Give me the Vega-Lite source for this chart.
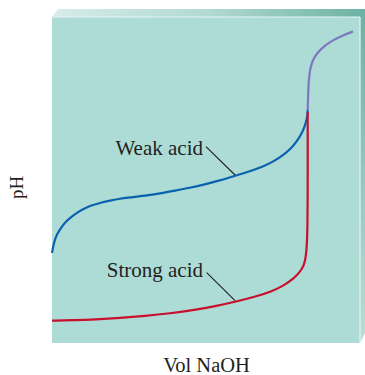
{
  "$schema": "https://vega.github.io/schema/vega-lite/v6.json",
  "width": 308,
  "height": 326,
  "autosize": {"type": "none"},
  "padding": {"left": 52, "top": 17, "right": 5, "bottom": 32},
  "background": "white",
  "config": {"view": {"fill": "#acdcd5", "stroke": null}},
  "datasets": {
    "curves": [
      {"s": "weak", "i": 1, "x": 0, "y": 90},
      {"s": "weak", "i": 2, "x": 2, "y": 101},
      {"s": "weak", "i": 3, "x": 5, "y": 109},
      {"s": "weak", "i": 4, "x": 9.7, "y": 116.3},
      {"s": "weak", "i": 5, "x": 14, "y": 121.5},
      {"s": "weak", "i": 6, "x": 19.7, "y": 126.3},
      {"s": "weak", "i": 7, "x": 26, "y": 131},
      {"s": "weak", "i": 8, "x": 33, "y": 135},
      {"s": "weak", "i": 9, "x": 41, "y": 138},
      {"s": "weak", "i": 10, "x": 49.7, "y": 140.7},
      {"s": "weak", "i": 11, "x": 58, "y": 142.5},
      {"s": "weak", "i": 12, "x": 66, "y": 144},
      {"s": "weak", "i": 13, "x": 78, "y": 145.5},
      {"s": "weak", "i": 14, "x": 93, "y": 147.2},
      {"s": "weak", "i": 15, "x": 108, "y": 149.5},
      {"s": "weak", "i": 16, "x": 123, "y": 152.3},
      {"s": "weak", "i": 17, "x": 138, "y": 155.2},
      {"s": "weak", "i": 18, "x": 151, "y": 158.2},
      {"s": "weak", "i": 19, "x": 168, "y": 162.5},
      {"s": "weak", "i": 20, "x": 183, "y": 167.2},
      {"s": "weak", "i": 21, "x": 198, "y": 171.8},
      {"s": "weak", "i": 22, "x": 211, "y": 176.5},
      {"s": "weak", "i": 23, "x": 222, "y": 181.8},
      {"s": "weak", "i": 24, "x": 231, "y": 187.8},
      {"s": "weak", "i": 25, "x": 239, "y": 194.5},
      {"s": "weak", "i": 26, "x": 244.7, "y": 201.3},
      {"s": "weak", "i": 27, "x": 249.7, "y": 209.7},
      {"s": "weak", "i": 28, "x": 252.5, "y": 216},
      {"s": "weak", "i": 29, "x": 254.7, "y": 223.5},
      {"s": "weak", "i": 30, "x": 255.6, "y": 230},
      {"s": "weak", "i": 31, "x": 255.7, "y": 233},
      {"s": "excess", "i": 1, "x": 255.7, "y": 233},
      {"s": "excess", "i": 2, "x": 255.8, "y": 238},
      {"s": "excess", "i": 3, "x": 256.2, "y": 250},
      {"s": "excess", "i": 4, "x": 256.7, "y": 262},
      {"s": "excess", "i": 5, "x": 257.8, "y": 272},
      {"s": "excess", "i": 6, "x": 259.7, "y": 280},
      {"s": "excess", "i": 7, "x": 263, "y": 287},
      {"s": "excess", "i": 8, "x": 268, "y": 293},
      {"s": "excess", "i": 9, "x": 274, "y": 298.3},
      {"s": "excess", "i": 10, "x": 281, "y": 302.8},
      {"s": "excess", "i": 11, "x": 291, "y": 307.8},
      {"s": "excess", "i": 12, "x": 301, "y": 311.5},
      {"s": "strong", "i": 1, "x": 0, "y": 22.3},
      {"s": "strong", "i": 2, "x": 23, "y": 22.8},
      {"s": "strong", "i": 3, "x": 43, "y": 23.6},
      {"s": "strong", "i": 4, "x": 68, "y": 25},
      {"s": "strong", "i": 5, "x": 93, "y": 27},
      {"s": "strong", "i": 6, "x": 118, "y": 29.6},
      {"s": "strong", "i": 7, "x": 143, "y": 33},
      {"s": "strong", "i": 8, "x": 163, "y": 36.8},
      {"s": "strong", "i": 9, "x": 183, "y": 41.2},
      {"s": "strong", "i": 10, "x": 203, "y": 46.2},
      {"s": "strong", "i": 11, "x": 219.7, "y": 51.5},
      {"s": "strong", "i": 12, "x": 231, "y": 57},
      {"s": "strong", "i": 13, "x": 239.7, "y": 63},
      {"s": "strong", "i": 14, "x": 245, "y": 68},
      {"s": "strong", "i": 15, "x": 249.7, "y": 73.5},
      {"s": "strong", "i": 16, "x": 252.3, "y": 79},
      {"s": "strong", "i": 17, "x": 254, "y": 87},
      {"s": "strong", "i": 18, "x": 255, "y": 100},
      {"s": "strong", "i": 19, "x": 255.5, "y": 120},
      {"s": "strong", "i": 20, "x": 255.7, "y": 143},
      {"s": "strong", "i": 21, "x": 255.7, "y": 193},
      {"s": "strong", "i": 22, "x": 255.7, "y": 225},
      {"s": "strong", "i": 23, "x": 255.7, "y": 231}
    ],
    "topBevel": [
      {"x": 0, "y": 326, "y2": 326},
      {"x": 6, "y": 334, "y2": 326},
      {"x": 313, "y": 334, "y2": 326}
    ],
    "rightBevel": [
      {"y": 0, "x": 308, "x2": 308},
      {"y": 10, "x": 313, "x2": 308},
      {"y": 334, "x": 313, "x2": 308}
    ],
    "edges": [
      {"x": 0, "y": 326, "x2": 308, "y2": 326},
      {"x": 308, "y": 0, "x2": 308, "y2": 326}
    ],
    "labels": [
      {"text": "Weak acid", "x": 151, "y": 188, "lx": 154, "ly": 196.3, "lx2": 183, "ly2": 168},
      {"text": "Strong acid", "x": 151, "y": 66, "lx": 154.7, "ly": 70.3, "lx2": 183, "ly2": 42.3}
    ]
  },
  "encoding": {
    "x": {"field": "x", "type": "quantitative", "scale": {"domain": [0, 308], "nice": false, "zero": false},
      "axis": {"title": "Vol NaOH", "domain": false, "ticks": false, "labels": false, "grid": false,
        "titleFont": "Liberation Serif", "titleFontSize": 20.5, "titleFontWeight": "normal", "titleColor": "#231f20",
        "titleBaseline": "alphabetic", "titleY": 28.5}},
    "y": {"field": "y", "type": "quantitative", "scale": {"domain": [0, 326], "nice": false, "zero": false},
      "axis": {"title": "pH", "domain": false, "ticks": false, "labels": false, "grid": false,
        "titleFont": "Liberation Serif", "titleFontSize": 19, "titleFontWeight": "normal", "titleColor": "#231f20",
        "titleBaseline": "alphabetic", "titleX": -30, "titleY": 170, "titleAngle": 270}}
  },
  "layer": [
    {
      "data": {"name": "topBevel"},
      "mark": {"type": "area", "clip": false, "fill": {"gradient": "linear", "x1": 0, "y1": 0, "x2": 1, "y2": 0,
        "stops": [{"offset": 0, "color": "#d6ece9"}, {"offset": 0.5, "color": "#b2d9d2"}, {"offset": 1, "color": "#6cb2a4"}]}},
      "encoding": {"y2": {"field": "y2"}}
    },
    {
      "data": {"name": "rightBevel"},
      "mark": {"type": "area", "orient": "horizontal", "clip": false, "fill": {"gradient": "linear", "x1": 0, "y1": 0, "x2": 0, "y2": 1,
        "stops": [{"offset": 0, "color": "#6cb2a4"}, {"offset": 1, "color": "#b9ddd7"}]}},
      "encoding": {"x2": {"field": "x2"}}
    },
    {
      "data": {"name": "edges"},
      "mark": {"type": "rule", "color": "#e6f3f1", "strokeWidth": 1.2, "clip": false},
      "encoding": {"x2": {"field": "x2"}, "y2": {"field": "y2"}}
    },
    {
      "data": {"name": "curves"},
      "mark": {"type": "line", "strokeWidth": 2.2, "interpolate": "basis"},
      "encoding": {
        "detail": {"field": "s"},
        "order": {"field": "i", "type": "quantitative"},
        "color": {"field": "s", "type": "nominal", "legend": null,
          "scale": {"domain": ["weak", "excess", "strong"], "range": ["#0a62ae", "#7d78bf", "#c8102e"]}}
      }
    },
    {
      "data": {"name": "labels"},
      "mark": {"type": "rule", "color": "#231f20", "strokeWidth": 1.1},
      "encoding": {"x": {"field": "lx"}, "y": {"field": "ly"}, "x2": {"field": "lx2"}, "y2": {"field": "ly2"}}
    },
    {
      "data": {"name": "labels"},
      "mark": {"type": "text", "align": "right", "baseline": "alphabetic", "font": "Liberation Serif", "fontSize": 21, "color": "#231f20"},
      "encoding": {"text": {"field": "text"}}
    }
  ]
}
